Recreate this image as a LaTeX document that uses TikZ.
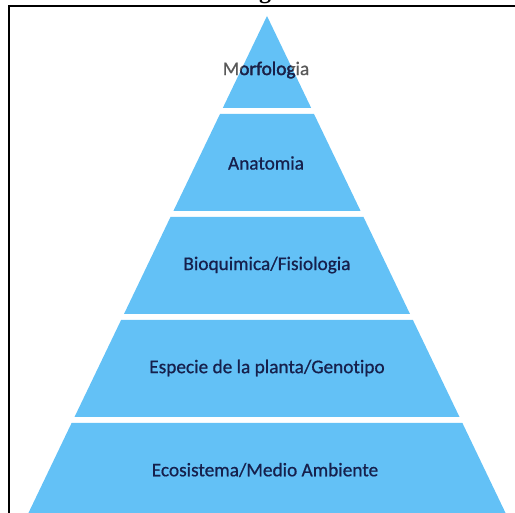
\documentclass[tikz,border=0pt]{standalone}
\usepackage{fontspec}
\setmainfont{Carlito}
\newfontfamily\levelfont{Carlito}[FakeBold=0.7, Ligatures=NoCommon]
\newfontfamily\capfont{Liberation Serif}
\definecolor{layerblue}{RGB}{99,193,246}
\definecolor{labelnavy}{RGB}{22,32,76}

\begin{document}
\begin{tikzpicture}[x=1pt, y=-1pt]
            \tikzstyle{layer} = [fill=layerblue]
            \tikzstyle{levelname} = [text=labelnavy, font=\levelfont\fontsize{19.3}{23}\selectfont]
            \tikzstyle{frame} = [line width=2pt]

            \useasboundingbox (0,0) rectangle (515,513);

            % frame and the cut caption above it
            \coordinate (framecorner) at (9,6.5);
            \coordinate (framebottom) at (9,520);
            \coordinate (frameright) at (520,6.5);
            \draw[frame] (framebottom) -- (framecorner) -- (frameright);
            \node[font=\capfont\bfseries\fontsize{24}{28}\selectfont, anchor=base] (caption) at (265,-1) {g};

            % pyramid levels
            \fill[layer] (267,16) -- (311.2,108) -- (222.8,108) -- cycle;
            \fill[layer] (220,114) -- (314,114) -- (360.6,211) -- (173.4,211) -- cycle;
            \fill[layer] (170.5,217) -- (363.5,217) -- (410,314) -- (124,314) -- cycle;
            \fill[layer] (121.1,320) -- (412.9,320) -- (459.5,417) -- (74.5,417) -- cycle;
            \fill[layer] (71.6,423) -- (462.4,423) -- (513.7,530) -- (20.3,530) -- cycle;

            \node[levelname, text=gray!70!black] (morfologia) at (266,70) {Morfologia};
            \begin{scope}
              \clip (267,16) -- (311.2,108) -- (222.8,108) -- cycle;
              \node[levelname] (morfologiatip) at (morfologia) {Morfologia};
            \end{scope}
            \node[levelname] (anatomia) at (266,163) {Anatomia};
            \node[levelname] (bioquimica) at (267,265) {Bioquimica/Fisiologia};
            \node[levelname] (especie) at (267,368) {Especie de la planta/Genotipo};
            \node[levelname] (ecosistema) at (265,470) {Ecosistema/Medio Ambiente};
          \end{tikzpicture}
\end{document}
